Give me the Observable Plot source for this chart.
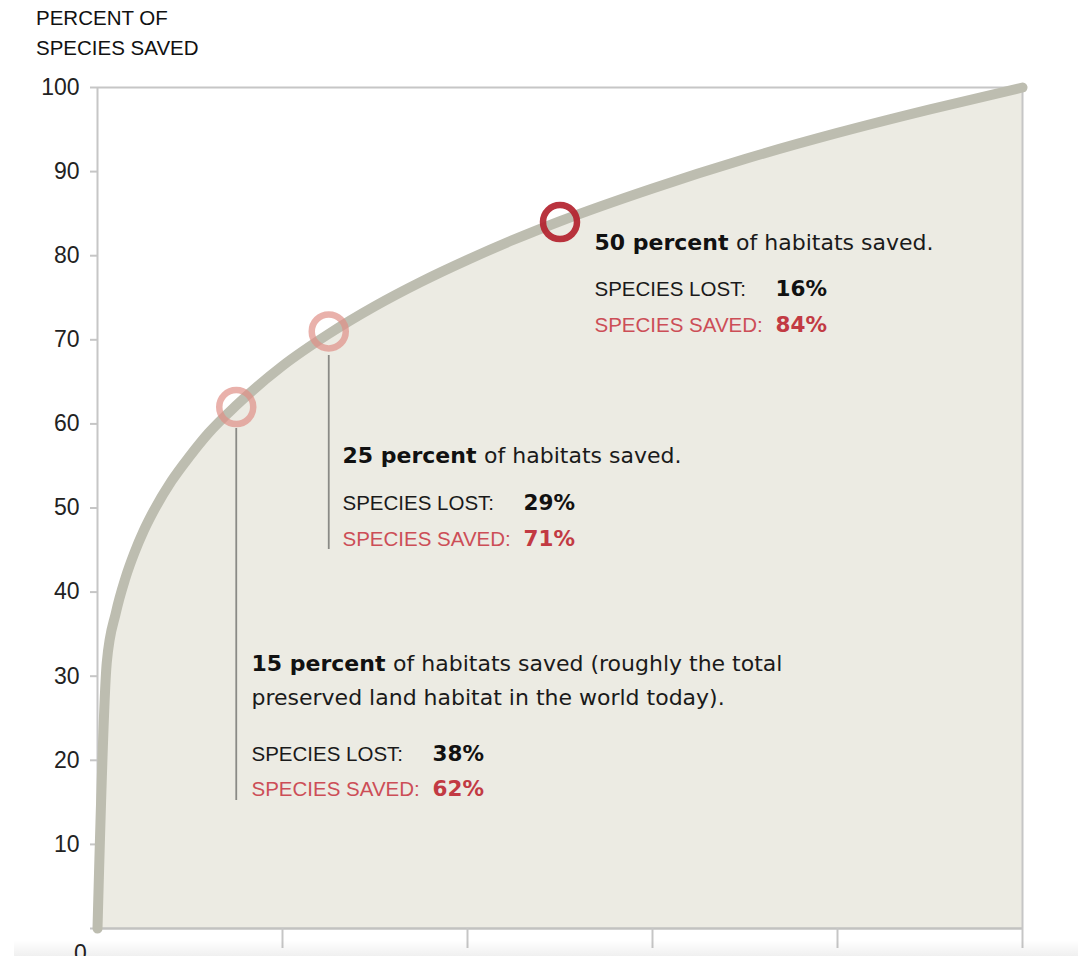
<!DOCTYPE html>
<html>
<head>
<meta charset="utf-8">
<script src="https://cdn.jsdelivr.net/npm/d3@7"></script>
<script src="https://cdn.jsdelivr.net/npm/@observablehq/plot@0.6"></script>
<style>
  html, body { margin: 0; padding: 0; background: #fff; }
  #wrap { position: relative; width: 1078px; height: 956px; overflow: hidden; font-family: "Liberation Sans", Arial, sans-serif; }
  #title { position: absolute; left: 36px; top: 3px; font-size: 20.5px; line-height: 30px; color: #111; }
  #shade { position: absolute; left: 14px; top: 940px; width: 1064px; height: 16px;
           background: linear-gradient(to bottom, rgba(0,0,0,0), rgba(0,0,0,0.06)); pointer-events: none; }
</style>
</head>
<body>
<div id="wrap">
  <div id="chart"></div>
  <div id="title">PERCENT OF<br>SPECIES SAVED</div>
  <div id="shade"></div>
</div>
<script>
// ---- data ----
const habitatSaved = [0, 1, 2, 3, 4, 5, 6, 8, 10, 12, 15, 20, 25, 30, 35, 40, 45, 50, 60, 70, 80, 90, 100];
const speciesSaved = [0, 31.6, 37.6, 41.6, 44.7, 47.3, 49.5, 53.2, 56.2, 58.9, 62.2, 66.9, 70.7, 74.0, 76.9, 79.5, 81.9, 84.1, 88.0, 91.5, 94.6, 97.4, 100];

const markHabitat = [15, 25, 50];
const markSaved = [62, 71, 84];
const markLost = [38, 29, 16];
const markHeadBold = ["15 percent", "25 percent", "50 percent"];
const markHeadRest = [
  ["of habitats saved (roughly the total", "preserved land habitat in the world today)."],
  ["of habitats saved."],
  ["of habitats saved."]
];
const yTicks = [0, 10, 20, 30, 40, 50, 60, 70, 80, 90, 100];
const xTicks = [20, 40, 60, 80, 100];

// ---- build tables ----
const curve = habitatSaved.map((h, i) => ({h, s: speciesSaved[i]}));
const marks = markHabitat.map((h, i) => ({h, s: markSaved[i], lost: markLost[i], i}));

// layout (pixel offsets) for annotation blocks
const W = 1078, H = 956, ML = 97, MR = 56, MT = 87, MB = 28;
const xinv = p => (p - ML) / (W - ML - MR) * 100;
const yinv = p => (H - MB - p) / (H - MT - MB) * 100;

const blockX = [251, 342, 594];
const headY = [663, 455, 242];
const lostY = [754, 503, 289];
const savedY = [789, 539, 325];
const leader = [[428, 800], [355, 549], null];

const HEADFONT = "'DejaVu Sans', Verdana, sans-serif";
const FONT = "'Liberation Sans', Arial, sans-serif";
const HEADSIZE = 22;
const ctx = document.createElement("canvas").getContext("2d");
ctx.font = `bold ${HEADSIZE}px ${HEADFONT}`;
const boldW = markHeadBold.map(t => ctx.measureText(t + " ").width);

const heads = [], headRest = [], rows = [], vals = [], leaders = [];
marks.forEach((m, i) => {
  heads.push({x: xinv(blockX[i]), y: yinv(headY[i]), t: markHeadBold[i]});
  markHeadRest[i].forEach((line, j) => {
    headRest.push({x: xinv(j === 0 ? blockX[i] + boldW[i] : blockX[i]), y: yinv(headY[i] + 34 * j), t: line});
  });
  rows.push({x: xinv(blockX[i]), y: yinv(lostY[i]), t: "SPECIES LOST:", red: false});
  rows.push({x: xinv(blockX[i]), y: yinv(savedY[i]), t: "SPECIES SAVED:", red: true});
  vals.push({x: xinv(blockX[i] + 181), y: yinv(lostY[i]), t: m.lost + "%", red: false});
  vals.push({x: xinv(blockX[i] + 181), y: yinv(savedY[i]), t: m.s + "%", red: true});
  if (leader[i]) leaders.push({x: m.h, y1: yinv(leader[i][0]), y2: yinv(leader[i][1])});
});

const frameColor = "#c6c6c6";

const chart = Plot.plot({
  width: W, height: H,
  marginLeft: ML, marginRight: MR, marginTop: MT, marginBottom: MB,
  style: {fontFamily: FONT, background: "transparent", overflow: "visible"},
  x: {domain: [0, 100]},
  y: {domain: [0, 100]},
  marks: [
    Plot.areaY(curve, {x: "h", y: "s", fill: "#ecebe3", curve: "monotone-x"}),
    Plot.ruleY([100], {stroke: frameColor, strokeWidth: 2}),
    Plot.ruleY([0], {stroke: "#c2c2c0", strokeWidth: 2.5}),
    Plot.ruleX([0], {stroke: frameColor, strokeWidth: 2}),
    Plot.ruleX([100], {stroke: frameColor, strokeWidth: 2}),
    Plot.axisY({ticks: yTicks, tickSize: 7, tickPadding: 11, fontSize: 23, stroke: frameColor, strokeWidth: 2,
                color: "#222", tickFormat: d => d === 0 ? "" : d}),
    Plot.axisX({ticks: xTicks, tickSize: 20, tickFormat: () => "", stroke: frameColor, strokeWidth: 2}),
    Plot.text([0], {x: 0, y: 0, text: d => String(d), dx: -17, dy: 25, fontSize: 23, fill: "#222"}),
    Plot.ruleX(leaders, {x: "x", y1: "y1", y2: "y2", stroke: "#8a8a86", strokeWidth: 1.8}),
    Plot.line(curve, {x: "h", y: "s", stroke: "#bdbdb0", strokeWidth: 10, strokeLinecap: "round", curve: "monotone-x"}),
    Plot.dot(marks, {x: "h", y: "s", r: 17, strokeWidth: 6.5, fill: "none",
                     stroke: d => d.i === 2 ? "#b3222e" : "#e09088",
                     strokeOpacity: d => d.i === 2 ? 0.92 : 0.7}),
    Plot.text(heads, {x: "x", y: "y", text: "t", textAnchor: "start", fontSize: HEADSIZE, fontWeight: "bold", fontFamily: HEADFONT, fill: "#111"}),
    Plot.text(headRest, {x: "x", y: "y", text: "t", textAnchor: "start", fontSize: HEADSIZE, fontFamily: HEADFONT, fill: "#1a1a1a"}),
    Plot.text(rows, {x: "x", y: "y", text: "t", textAnchor: "start", fontSize: 20.5, fill: d => d.red ? "#cc4e57" : "#1a1a1a"}),
    Plot.text(vals, {x: "x", y: "y", text: "t", textAnchor: "start", fontSize: 21.5, fontWeight: "bold", fontFamily: HEADFONT, fill: d => d.red ? "#c23a43" : "#111"})
  ]
});
document.getElementById("chart").appendChild(chart);
</script>
</body>
</html>
